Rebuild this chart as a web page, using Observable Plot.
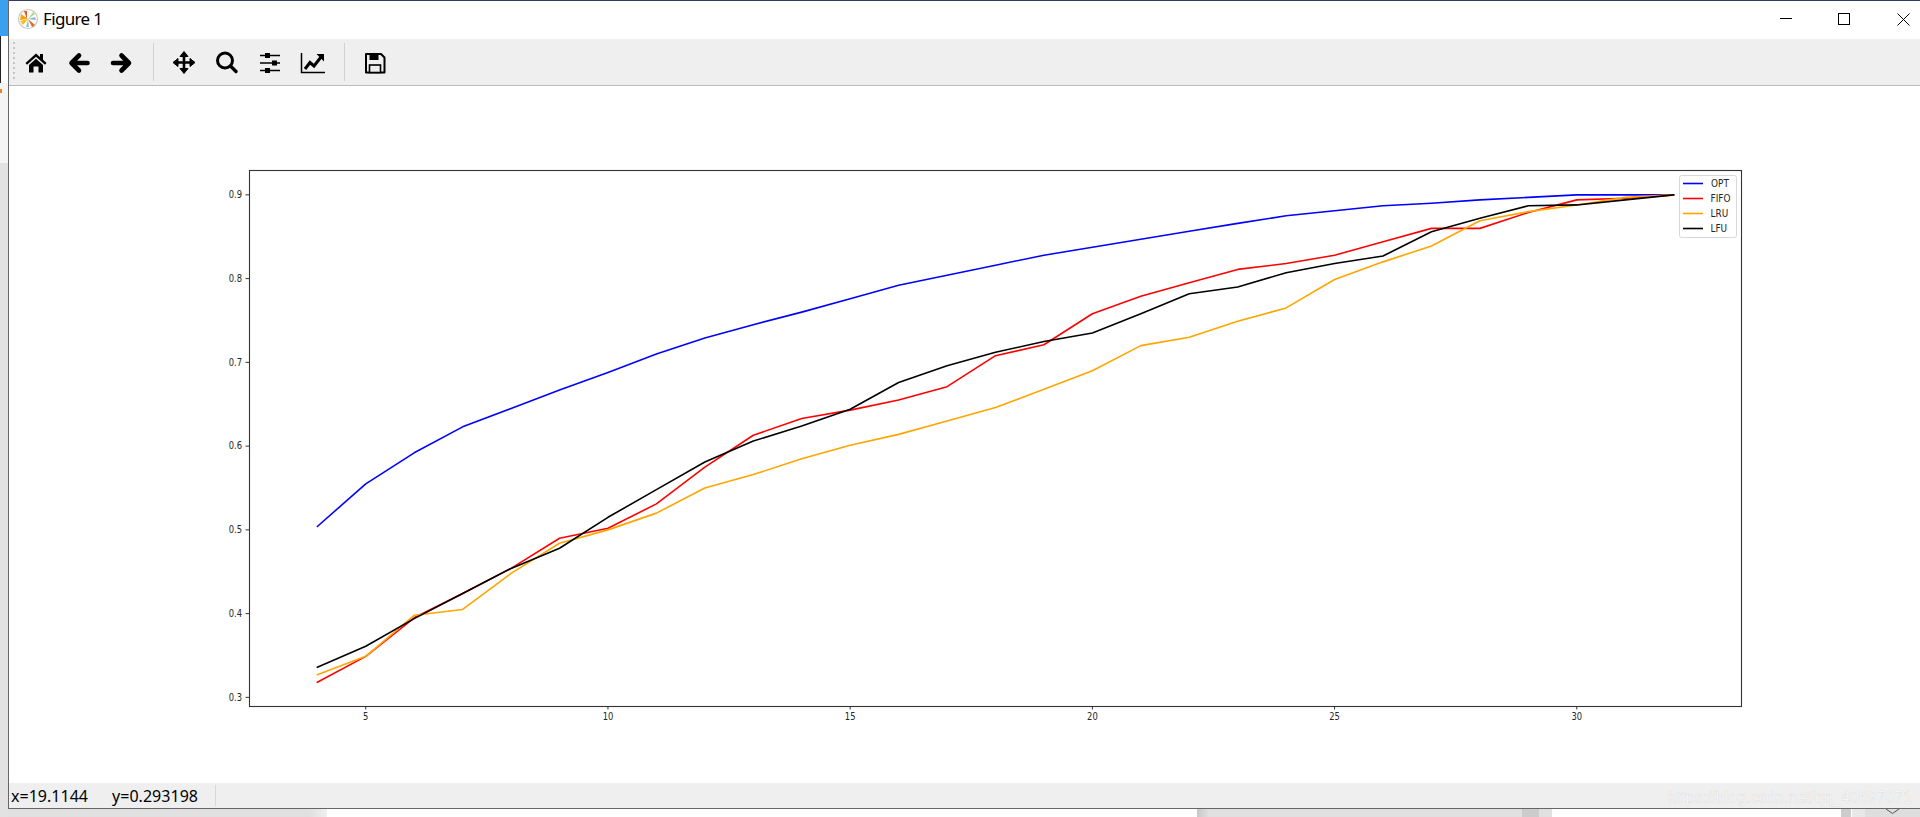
<!DOCTYPE html>
<html>
<head>
<meta charset="utf-8">
<title>Figure 1</title>
<script src="https://cdn.jsdelivr.net/npm/d3@7"></script>
<script src="https://cdn.jsdelivr.net/npm/@observablehq/plot@0.6"></script>
<style>
html,body{margin:0;padding:0;width:1920px;height:817px;overflow:hidden;background:#fff}
#chrome,#plot svg,#legend{position:absolute;left:0;top:0}
#chrome,#legend{width:1920px;height:817px;display:block}
#plot svg{overflow:visible}
text{white-space:pre}
</style>
</head>
<body>
<svg id="chrome" viewBox="0 0 1920 817" xmlns="http://www.w3.org/2000/svg">
  <defs>
    <linearGradient id="fadeR"><stop offset="0" stop-color="#e0e0e0"/><stop offset="1" stop-color="#f0f0f0"/></linearGradient>
    <linearGradient id="fadeL"><stop offset="0" stop-color="#c8c8c8"/><stop offset="1" stop-color="#e0e0e0"/></linearGradient>
  </defs>
  <!-- desktop behind the window -->
  <rect x="0" y="0" width="8" height="817" fill="#f4f4f4"/>
  <rect x="0" y="0" width="8" height="36" fill="#3ba0ee"/>
  <rect x="0" y="36" width="8" height="47" fill="#fff"/>
  <rect x="0" y="36" width="1" height="47" fill="#222"/>
  <rect x="0" y="89" width="2" height="4" fill="#f08020"/>
  <rect x="0" y="163" width="8" height="654" fill="#e2e2e2"/>
  <rect x="8" y="809" width="302" height="8" fill="#e0e0e0"/>
  <rect x="310" y="809" width="17" height="8" fill="url(#fadeR)"/>
  <rect x="1197" y="809" width="355" height="8" fill="#e0e0e0"/>
  <rect x="1197" y="809" width="12" height="8" fill="url(#fadeL)"/>
  <rect x="1522" y="809" width="17" height="8" fill="#cccccc"/>
  <rect x="1841" y="809" width="10" height="8" fill="#cccccc"/>
  <rect x="1852" y="809" width="13" height="8" fill="#e8e8e8"/>
  <rect x="1865" y="809" width="55" height="8" fill="#dedede"/>
  <path d="M1886 809 l6.5 4.5 l6.5 -4.5" fill="none" stroke="#555"/>
  <!-- window frame -->
  <rect x="8" y="0" width="1912" height="1" fill="#2d3f66"/>
  <rect x="8" y="0" width="1" height="809" fill="#666"/>
  <rect x="9" y="39" width="1911" height="46" fill="#efefef"/>
  <rect x="9" y="85" width="1911" height="1" fill="#bbb"/>
  <rect x="9" y="783" width="1911" height="25" fill="#efefef"/>
  <rect x="8" y="808" width="1912" height="1" fill="#666"/>
  <!-- title -->
  <g transform="translate(28 19)">
    <circle r="9.5" fill="#fff" stroke="#c8c8c8" stroke-width="1.2"/>
    <path d="M0 0 L-7 -5 L-8 1 Z" fill="#f4a010"/>
    <path d="M0 0 L-8 2 L-5 6 Z" fill="#f4c020"/>
    <path d="M0 0 L7 6 L4 8 Z" fill="#e86a20"/>
    <path d="M-1 0 L-4 -8 L-1 -8 Z" fill="#e85a18"/>
    <path d="M0 0 L5 -7 L7 -5 Z" fill="#a8d890"/>
    <path d="M0 0 L1 8 L-2 8 Z" fill="#90c0d8"/>
    <path d="M0 0 L7 -2 L8 1 Z" fill="#88b8d0"/>
  </g>
  <text x="43" y="25" font-family="'Noto Sans'" font-size="17" fill="#000" textLength="60">Figure 1</text>
  <!-- window controls -->
  <rect x="1780" y="18" width="12" height="1" fill="#000"/>
  <rect x="1838.5" y="13.5" width="11" height="11" fill="none" stroke="#000"/>
  <path d="M1897.5 13.5 L1909.5 25.5 M1909.5 13.5 L1897.5 25.5" stroke="#000" fill="none"/>
  <!-- toolbar -->
  <g fill="#c4c4c4">
    <rect x="13" y="42" width="2" height="2"/><rect x="13" y="47" width="2" height="2"/><rect x="13" y="52" width="2" height="2"/><rect x="13" y="57" width="2" height="2"/><rect x="13" y="62" width="2" height="2"/><rect x="13" y="67" width="2" height="2"/><rect x="13" y="72" width="2" height="2"/><rect x="13" y="77" width="2" height="2"/>
  </g>
  <rect x="153" y="43" width="1" height="38" fill="#d2d2d2"/>
  <rect x="344" y="43" width="1" height="38" fill="#d2d2d2"/>
  <!-- home -->
  <path transform="translate(36 63)" d="M-10.5 0 L0 -9.5 L4 -6 L4 -9 L7 -9 L7 -3.2 L10.5 0 L9 1.8 L0 -6.2 L-9 1.8 Z M-7 2 L0 -4.2 L7 2 L7 9.5 L2.5 9.5 L2.5 3.5 L-2.5 3.5 L-2.5 9.5 L-7 9.5 Z" fill="#000"/>
  <!-- back / forward -->
  <path transform="translate(79 63)" d="M8.5 0 L-6 0 M0 -7.5 L-7.5 0 L0 7.5" stroke="#000" stroke-width="4.6" stroke-linejoin="round" stroke-linecap="round" fill="none"/>
  <path transform="translate(121.5 63)" d="M-8.5 0 L6 0 M0 -7.5 L7.5 0 L0 7.5" stroke="#000" stroke-width="4.6" stroke-linejoin="round" stroke-linecap="round" fill="none"/>
  <!-- move -->
  <g transform="translate(184 62.5)">
    <path d="M-8 0 H8 M0 -8 V8" stroke="#000" stroke-width="2.6" fill="none"/>
    <path d="M0 -11 L4 -6 H-4 Z M0 11 L4 6 H-4 Z M-11 0 L-6 -4 V4 Z M11 0 L6 -4 V4 Z" fill="#000" stroke="#000" stroke-linejoin="round"/>
  </g>
  <!-- zoom -->
  <g transform="translate(225 60.5)" fill="none" stroke="#000">
    <circle r="7.5" stroke-width="3"/>
    <path d="M5.5 5.5 L11 11" stroke-width="3.4" stroke-linecap="round"/>
  </g>
  <!-- sliders -->
  <g transform="translate(270 63)">
    <path d="M-10 -7.5 H10 M-10 0 H10 M-10 7.5 H10" stroke="#000" stroke-width="1.6" fill="none"/>
    <rect x="-5" y="-10" width="5" height="5" fill="#000"/>
    <rect x="2" y="-2.5" width="5" height="5" fill="#000"/>
    <rect x="-5" y="5" width="5" height="5" fill="#000"/>
  </g>
  <!-- subplots chart icon -->
  <g transform="translate(313 63)" fill="none" stroke="#000">
    <path d="M-11.5 -10 V9.5 H12" stroke-width="1.5"/>
    <path d="M-8 6 L-3 -0.5 L1 3 L8 -6" stroke-width="3"/>
    <path d="M3.5 -9 H11 V-1.5 Z" fill="#000" stroke="none"/>
  </g>
  <!-- save -->
  <g transform="translate(375 63)" fill="none" stroke="#000" stroke-width="2">
    <path d="M-9 -9 H6 L9.5 -5.5 V9.5 H-9 Z" stroke-linejoin="round"/>
    <rect x="-5.5" y="-9" width="9" height="6" fill="#000" stroke="none"/>
    <rect x="-5.5" y="2" width="11" height="7.5" fill="#efefef" stroke-width="1.6"/>
  </g>
  <!-- status bar -->
  <rect x="215" y="785" width="1" height="21" fill="#d8d8d8"/>
  <text x="11" y="802" font-family="'Noto Sans'" font-size="16" fill="#000" textLength="77">x=19.1144</text>
  <text x="112" y="802" font-family="'Noto Sans'" font-size="16" fill="#000" textLength="86">y=0.293198</text>
  <text x="1668" y="803" font-family="'Liberation Sans'" font-size="16" fill="#fdfdfd" stroke="#dedede" stroke-width="0.5" textLength="244" lengthAdjust="spacingAndGlyphs">https://blog.csdn.net/qq_40697071</text>
</svg>
<div id="plot"></div>
<svg id="legend" viewBox="0 0 1920 817" xmlns="http://www.w3.org/2000/svg"></svg>
<script>
const cacheSizes = [4,5,6,7,8,9,10,11,12,13,14,15,16,17,18,19,20,21,22,23,24,25,26,27,28,29,30,31,32];
const OPT  = [0.504,0.555,0.592,0.623,0.645,0.667,0.688,0.710,0.729,0.745,0.760,0.776,0.792,0.804,0.816,0.828,0.8375,0.847,0.8565,0.866,0.875,0.881,0.887,0.890,0.894,0.897,0.900,0.900,0.900];
const FIFO = [0.318,0.349,0.395,0.424,0.454,0.490,0.502,0.531,0.575,0.613,0.633,0.643,0.655,0.671,0.708,0.721,0.758,0.779,0.795,0.811,0.818,0.828,0.844,0.860,0.860,0.879,0.894,0.896,0.900];
const LRU  = [0.327,0.349,0.398,0.405,0.448,0.484,0.500,0.520,0.550,0.566,0.585,0.601,0.614,0.630,0.646,0.668,0.690,0.720,0.730,0.749,0.765,0.799,0.820,0.839,0.869,0.880,0.888,0.897,0.900];
const LFU  = [0.336,0.361,0.394,0.424,0.454,0.478,0.515,0.548,0.581,0.606,0.624,0.644,0.676,0.696,0.712,0.725,0.735,0.758,0.782,0.790,0.807,0.818,0.827,0.856,0.872,0.887,0.888,0.894,0.900];
const seriesNames = ["OPT","FIFO","LRU","LFU"];
const seriesColors = ["#0000ff","#ff0000","#ffa500","#000000"];
const xTicks = [5,10,15,20,25,30];
const yTicks = [0.3,0.4,0.5,0.6,0.7,0.8,0.9];

const allSeries = [OPT,FIFO,LRU,LFU];
const rows = seriesNames.flatMap((name,i) =>
  cacheSizes.map((x,j) => ({series:name, x, y:allSeries[i][j]})));

const chart = Plot.plot({
  width:1920, height:817,
  marginLeft:249, marginRight:179, marginTop:170, marginBottom:111,
  style:{fontFamily:"'DejaVu Sans'", fontSize:"10.5px", background:"transparent", color:"#262626"},
  x:{domain:[2.6,33.4]},
  y:{domain:[0.2891,0.9291]},
  color:{domain:seriesNames, range:seriesColors},
  marks:[
    Plot.line(rows,{x:"x",y:"y",z:"series",stroke:"series",strokeWidth:1.6,curve:"linear"}),
    Plot.axisX(xTicks,{label:null,tickSize:3.5,tickPadding:3,stroke:"#333",tickFormat:d=>String(d),fontSize:10.5}),
    Plot.axisY(yTicks,{label:null,tickSize:3.5,tickPadding:4,stroke:"#333",tickFormat:d3.format(".1f"),fontSize:10.5}),
    Plot.frame({stroke:"#333",strokeWidth:1.1})
  ]
});
document.getElementById("plot").appendChild(chart);

// the reference screenshot is squeezed horizontally, so its small text is narrow
chart.querySelectorAll('g[aria-label$="tick label"] text').forEach(t => {
  const tr = t.getAttribute("transform") || "";
  t.setAttribute("transform", tr + " scale(.8,1)");
});

// legend box, as in the figure: built from the series lists
const lg = d3.select("#legend");
lg.append("rect").attr("x",1679.5).attr("y",175.5).attr("width",57).attr("height",62)
  .attr("rx",2).attr("fill","#fff").attr("fill-opacity",.85).attr("stroke","#d8d8d8");
seriesNames.forEach((name,i)=>{
  const yy = 183.5 + i*15;
  lg.append("line").attr("x1",1683).attr("x2",1703).attr("y1",yy).attr("y2",yy)
    .attr("stroke",seriesColors[i]).attr("stroke-width",1.6);
  lg.append("text")
    .attr("transform",`translate(${name==="OPT"?1711:1710.5},${yy+3}) scale(.85,1)`)
    .attr("font-family","'DejaVu Sans'").attr("font-size",10.5).attr("fill","#262626").text(name);
});
</script>
</body>
</html>
